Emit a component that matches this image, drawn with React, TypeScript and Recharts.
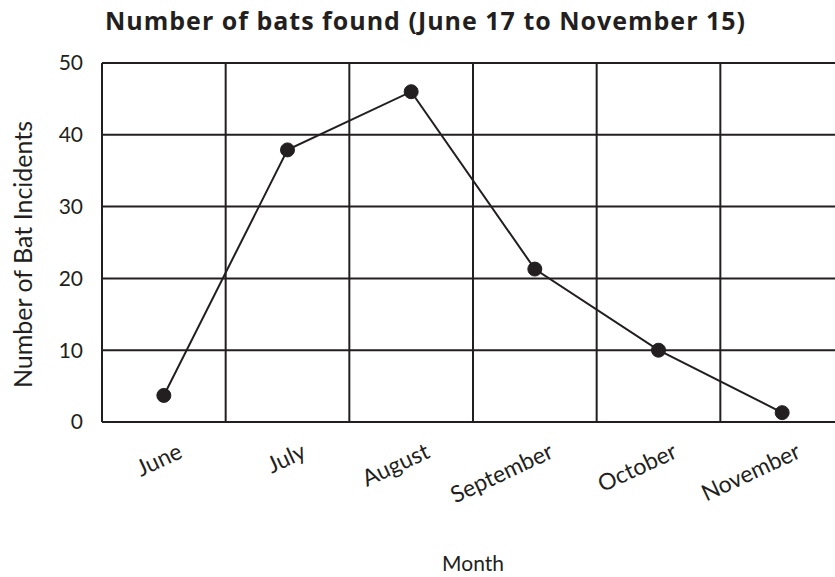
import { CartesianGrid, Line, LineChart, XAxis, YAxis } from "recharts";

const months = ["June", "July", "August", "September", "October", "November"];
const batCounts = [3.7, 37.9, 46.0, 21.3, 10.0, 1.3];
const yTicks = [0, 10, 20, 30, 40, 50];

const data = months.map((month, i) => ({ month, bats: batCounts[i] }));

const INK = "#231f20";
const FONT = "Lato, 'Open Sans', sans-serif";

// vertical grid lines sit on the month band edges, not the band centres
const bandEdges = ({ offset }: any) =>
  Array.from({ length: months.length + 1 }, (_, i) => offset.left + (i * offset.width) / months.length);

function MonthTick(props: any) {
  const { x, y, payload } = props;
  return (
    <g transform={`translate(${x + 20},${y + 27})`}>
      <text
        x={0}
        y={0}
        textAnchor="end"
        transform="rotate(-25)"
        fill={INK}
        fontSize={23}
        fontFamily={FONT}
      >
        {payload.value}
      </text>
    </g>
  );
}

function YTitle(props: any) {
  const vb = props.viewBox;
  const cx = vb.x + 32;
  const cy = vb.y + vb.height / 2 + 12;
  return (
    <text
      x={cx}
      y={cy}
      transform={`rotate(-90, ${cx}, ${cy})`}
      textAnchor="middle"
      fill={INK}
      fontSize={25}
      fontFamily={FONT}
    >
      Number of Bat Incidents
    </text>
  );
}

function XTitle(props: any) {
  const vb = props.viewBox;
  return (
    <text
      x={vb.x + vb.width / 2}
      y={vb.y + 149}
      textAnchor="middle"
      fill={INK}
      fontSize={21}
      fontFamily={FONT}
    >
      Month
    </text>
  );
}

export default function App() {
  return (
    <div
      style={{
        position: "absolute",
        left: 0,
        top: 0,
        width: 835,
        height: 577,
        overflow: "hidden",
        background: "#fff",
      }}
    >
      <div
        style={{
          position: "absolute",
          left: 105,
          top: 7,
          lineHeight: "26px",
          fontSize: 25,
          letterSpacing: 1,
          fontWeight: 700,
          fontFamily: "'Open Sans', Lato, sans-serif",
          color: INK,
          whiteSpace: "nowrap",
        }}
      >
        Number of bats found (June 17 to November 15)
      </div>
      <LineChart
        width={860}
        height={577}
        data={data}
        margin={{ top: 63, right: 16, bottom: 0, left: 0 }}
      >
        <CartesianGrid stroke={INK} strokeWidth={2} verticalCoordinatesGenerator={bandEdges} />
        <XAxis
          dataKey="month"
          scale="band"
          height={155}
          interval={0}
          tickLine={false}
          axisLine={{ stroke: INK, strokeWidth: 2 }}
          tick={<MonthTick />}
          label={<XTitle />}
        />
        <YAxis
          width={102}
          domain={[0, 50]}
          ticks={yTicks}
          tickLine={false}
          tickSize={0}
          tickMargin={19}
          axisLine={{ stroke: INK, strokeWidth: 2 }}
          tick={{ fill: INK, fontSize: 21, fontFamily: FONT }}
          label={<YTitle />}
        />
        <Line
          dataKey="bats"
          stroke={INK}
          strokeWidth={2}
          dot={{ r: 7, fill: INK, stroke: INK, strokeWidth: 1 }}
          activeDot={false}
          isAnimationActive={false}
        />
      </LineChart>
    </div>
  );
}
